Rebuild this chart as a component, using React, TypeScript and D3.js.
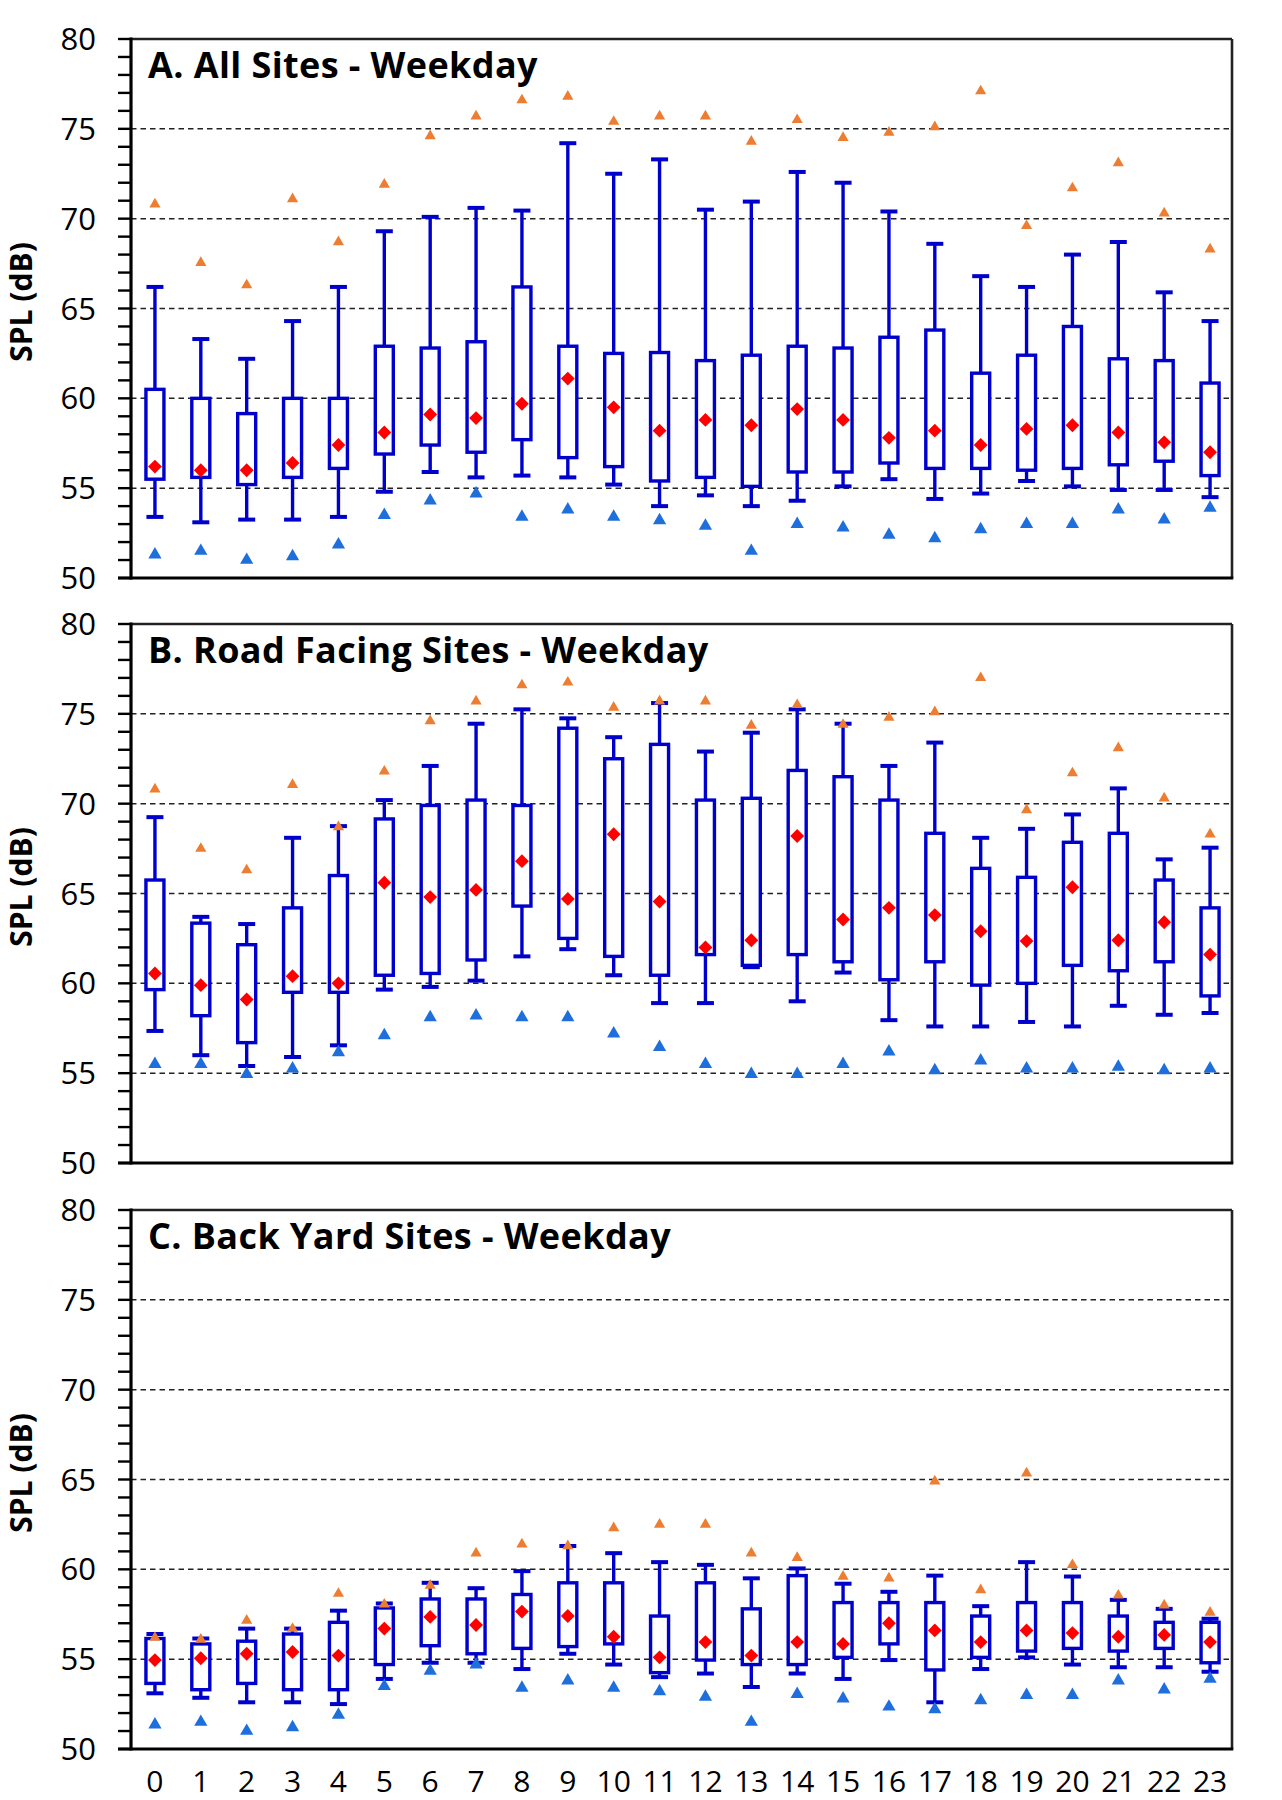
import React from "react";
import * as d3 from "d3";

// ---------- data ----------
const hours = ["0","1","2","3","4","5","6","7","8","9","10","11","12","13","14","15","16","17","18","19","20","21","22","23"];

// A. All Sites
const allHigh = [66.2, 63.3, 62.2, 64.3, 66.2, 69.3, 70.1, 70.6, 70.45, 74.2, 72.5, 73.3, 70.5, 70.95, 72.6, 72.0, 70.4, 68.6, 66.8, 66.2, 68.0, 68.7, 65.9, 64.3];
const allQ3 = [60.5, 60.0, 59.15, 60.0, 60.0, 62.9, 62.8, 63.15, 66.2, 62.9, 62.5, 62.55, 62.1, 62.4, 62.9, 62.8, 63.4, 63.8, 61.4, 62.4, 64.0, 62.2, 62.1, 60.85];
const allQ1 = [55.5, 55.6, 55.2, 55.6, 56.1, 56.9, 57.4, 57.0, 57.7, 56.7, 56.2, 55.4, 55.6, 55.1, 55.9, 55.9, 56.4, 56.1, 56.1, 56.0, 56.1, 56.3, 56.5, 55.7];
const allLow = [53.4, 53.1, 53.25, 53.25, 53.4, 54.8, 55.9, 55.6, 55.7, 55.6, 55.2, 54.0, 54.6, 54.0, 54.3, 55.1, 55.5, 54.4, 54.7, 55.4, 55.1, 54.9, 54.9, 54.5];
const allMean = [56.2, 56.0, 56.0, 56.4, 57.4, 58.1, 59.1, 58.9, 59.7, 61.1, 59.5, 58.2, 58.8, 58.5, 59.4, 58.8, 57.8, 58.2, 57.4, 58.3, 58.5, 58.1, 57.55, 57.0];
const allMax = [70.8, 67.55, 66.3, 71.1, 68.7, 71.9, 74.6, 75.7, 76.6, 76.8, 75.4, 75.7, 75.7, 74.3, 75.5, 74.5, 74.8, 75.1, 77.1, 69.6, 71.7, 73.1, 70.3, 68.3];
const allMin = [51.3, 51.5, 51.0, 51.2, 51.85, 53.5, 54.3, 54.7, 53.4, 53.8, 53.4, 53.2, 52.9, 51.5, 53.0, 52.8, 52.4, 52.2, 52.7, 53.0, 53.0, 53.8, 53.25, 53.9];

// B. Road Facing Sites
const roadHigh = [69.25, 63.7, 63.3, 68.1, 68.75, 70.2, 72.1, 74.45, 75.25, 74.75, 73.7, 75.6, 72.9, 73.95, 75.25, 74.45, 72.1, 73.4, 68.1, 68.6, 69.4, 70.85, 66.9, 67.55];
const roadQ3 = [65.75, 63.35, 62.15, 64.2, 66.0, 69.15, 69.9, 70.2, 69.9, 74.2, 72.5, 73.3, 70.2, 70.3, 71.85, 71.5, 70.2, 68.35, 66.4, 65.9, 67.85, 68.35, 65.75, 64.2];
const roadQ1 = [59.65, 58.2, 56.7, 59.5, 59.5, 60.45, 60.55, 61.3, 64.3, 62.5, 61.5, 60.45, 61.6, 61.0, 61.6, 61.2, 60.2, 61.2, 59.9, 60.0, 61.0, 60.7, 61.2, 59.3];
const roadLow = [57.35, 56.0, 55.4, 55.9, 56.55, 59.65, 59.8, 60.15, 61.5, 61.9, 60.45, 58.9, 58.9, 60.9, 59.0, 60.6, 57.95, 57.6, 57.6, 57.85, 57.6, 58.75, 58.25, 58.35];
const roadMean = [60.55, 59.9, 59.1, 60.4, 60.0, 65.6, 64.8, 65.2, 66.8, 64.7, 68.3, 64.55, 62.0, 62.4, 68.2, 63.55, 64.2, 63.8, 62.9, 62.35, 65.35, 62.4, 63.4, 61.6];
const roadMax = [70.8, 67.5, 66.3, 71.05, 68.7, 71.8, 74.6, 75.7, 76.6, 76.75, 75.35, 75.7, 75.7, 74.35, 75.5, 74.4, 74.8, 75.1, 77.0, 69.65, 71.7, 73.1, 70.3, 68.3];
const roadMin = [55.5, 55.5, 54.95, 55.25, 56.15, 57.1, 58.1, 58.2, 58.1, 58.1, 57.2, 56.45, 55.5, 54.95, 54.95, 55.5, 56.2, 55.15, 55.7, 55.25, 55.25, 55.35, 55.15, 55.25];

// C. Back Yard Sites
const yardHigh = [56.4, 56.15, 56.7, 56.7, 57.7, 58.1, 59.25, 58.95, 59.9, 61.3, 60.9, 60.4, 60.25, 59.5, 60.05, 59.2, 58.75, 59.65, 57.95, 60.4, 59.6, 58.3, 57.8, 57.25];
const yardQ3 = [56.15, 55.85, 56.0, 56.4, 57.05, 57.85, 58.35, 58.35, 58.6, 59.25, 59.25, 57.4, 59.25, 57.8, 59.65, 58.15, 58.15, 58.15, 57.4, 58.15, 58.15, 57.4, 57.05, 57.05];
const yardQ1 = [53.65, 53.3, 53.65, 53.3, 53.3, 54.7, 55.75, 55.3, 55.6, 55.7, 55.85, 54.25, 54.95, 54.7, 54.7, 55.1, 55.85, 54.4, 55.1, 55.45, 55.6, 55.45, 55.6, 54.8];
const yardLow = [53.1, 52.85, 52.6, 52.6, 52.5, 53.9, 54.8, 54.8, 54.45, 55.3, 54.7, 54.0, 54.2, 53.45, 54.2, 53.9, 54.95, 52.6, 54.45, 55.1, 54.7, 54.55, 54.55, 54.3];
const yardMean = [54.95, 55.05, 55.3, 55.4, 55.2, 56.7, 57.35, 56.9, 57.65, 57.4, 56.25, 55.1, 55.95, 55.2, 55.95, 55.85, 57.0, 56.6, 55.95, 56.6, 56.45, 56.25, 56.35, 55.95];
const yardMax = [56.2, 56.1, 57.15, 56.7, 58.65, 58.05, 59.1, 60.9, 61.4, 61.3, 62.3, 62.5, 62.5, 60.9, 60.65, 59.6, 59.5, 64.9, 58.85, 65.35, 60.25, 58.55, 58.0, 57.6];
const yardMin = [51.35, 51.5, 51.0, 51.2, 51.9, 53.5, 54.35, 54.7, 53.4, 53.8, 53.4, 53.2, 52.9, 51.5, 53.05, 52.8, 52.35, 52.2, 52.7, 53.0, 53.0, 53.8, 53.3, 53.9];

const panelTitles = ["A. All Sites - Weekday", "B. Road Facing Sites - Weekday", "C. Back Yard Sites - Weekday"];
const yTickLabels = [50, 55, 60, 65, 70, 75, 80];
const gridValues = [55, 60, 65, 70, 75];
const yDomain = [50, 80];

// ---------- layout / style ----------
const W = 1282;
const H = 1800;
const LEFT = 131;
const RIGHT = 1232;
const PANEL_H = 539;
const PANEL_TOPS = [39, 624, 1210];
const FONT = "'Open Sans', 'DejaVu Sans', sans-serif";
const BOX_BLUE = "#0000CC";
const MEAN_RED = "#FF0000";
const MAX_ORANGE = "#ED7D31";
const MIN_BLUE = "#1E6FDC";

const panelData = [
  { high: allHigh, q3: allQ3, q1: allQ1, low: allLow, mean: allMean, max: allMax, min: allMin },
  { high: roadHigh, q3: roadQ3, q1: roadQ1, low: roadLow, mean: roadMean, max: roadMax, min: roadMin },
  { high: yardHigh, q3: yardQ3, q1: yardQ1, low: yardLow, mean: yardMean, max: yardMax, min: yardMin },
];

const x = d3.scaleBand<string>().domain(hours).range([LEFT + 1, RIGHT + 1]).padding(0);

const diamond = d3.symbol(d3.symbolSquare, 96)() as string;
const triMax = d3.symbol(d3.symbolTriangle, 54)() as string;
const triMin = d3.symbol(d3.symbolTriangle, 76)() as string;

function Panel({ idx }: { idx: number }) {
  const top = PANEL_TOPS[idx];
  const d = panelData[idx];
  const y = d3.scaleLinear().domain(yDomain).range([top + PANEL_H, top]);
  const minorTicks = d3.range(yDomain[0], yDomain[1] + 1, 1);
  const cx = (h: string) => (x(h) as number) + x.bandwidth() / 2;
  const boxW = 18;
  const capW = 17;
  return (
    <g>
      {/* gridlines */}
      {gridValues.map((v) => (
        <line key={"g" + v} x1={LEFT} x2={RIGHT} y1={y(v)} y2={y(v)} stroke="#222" strokeWidth={1.5} strokeDasharray="5.5,4" />
      ))}
      {/* frame top/right */}
      <line x1={LEFT} x2={RIGHT} y1={top} y2={top} stroke="#222" strokeWidth={2.6} />
      <line x1={RIGHT} x2={RIGHT} y1={top} y2={top + PANEL_H} stroke="#222" strokeWidth={2.6} />
      {/* left axis and bottom axis */}
      <line x1={LEFT} x2={LEFT} y1={top - 1.5} y2={top + PANEL_H + 1.5} stroke="#000" strokeWidth={3.2} />
      <line x1={LEFT - 13} x2={RIGHT + 1.3} y1={top + PANEL_H} y2={top + PANEL_H} stroke="#000" strokeWidth={3.2} />
      {minorTicks.map((v) => (
        <line key={"t" + v} x1={LEFT - 13} x2={LEFT} y1={y(v)} y2={y(v)} stroke="#000" strokeWidth={2.4} />
      ))}
      {/* tick labels */}
      {yTickLabels.map((v) => (
        <text key={"l" + v} x={96} y={y(v) + 11} textAnchor="end" fontSize={31} fill="#000">{v}</text>
      ))}
      {/* axis title */}
      <text transform={`translate(32,${top + 263}) rotate(-90)`} textAnchor="middle" fontSize={30} fontWeight="bold" fill="#000">SPL (dB)</text>
      {/* whiskers and boxes */}
      {hours.map((h, i) => (
        <g key={"w" + h} stroke={BOX_BLUE} strokeWidth={3.4} fill="none">
          <line x1={cx(h)} x2={cx(h)} y1={y(d.q3[i])} y2={y(d.high[i])} />
          <line x1={cx(h)} x2={cx(h)} y1={y(d.q1[i])} y2={y(d.low[i])} />
          <line x1={cx(h) - capW / 2} x2={cx(h) + capW / 2} y1={y(d.high[i])} y2={y(d.high[i])} strokeWidth={4} />
          <line x1={cx(h) - capW / 2} x2={cx(h) + capW / 2} y1={y(d.low[i])} y2={y(d.low[i])} strokeWidth={4} />
          <rect x={cx(h) - boxW / 2} width={boxW} y={y(d.q3[i])} height={y(d.q1[i]) - y(d.q3[i])} fill="#fff" />
        </g>
      ))}
      {/* means */}
      {hours.map((h, i) => (
        <path key={"m" + h} d={diamond} transform={`translate(${cx(h)},${y(d.mean[i])}) rotate(45)`} fill={MEAN_RED} />
      ))}
      {/* max / min */}
      {hours.map((h, i) => (
        <path key={"mx" + h} d={triMax} transform={`translate(${cx(h)},${y(d.max[i])})`} fill={MAX_ORANGE} />
      ))}
      {hours.map((h, i) => (
        <path key={"mn" + h} d={triMin} transform={`translate(${cx(h)},${y(d.min[i])})`} fill={MIN_BLUE} />
      ))}
      {/* title */}
      <text x={148} y={top + 39} fontSize={36} fontWeight="bold" letterSpacing={0.4} fill="#000">{panelTitles[idx]}</text>
    </g>
  );
}

export default function App() {
  return (
    <svg width={W} height={H} style={{ position: "absolute", left: 0, top: 0, display: "block" }} fontFamily={FONT}>
      <rect x={0} y={0} width={W} height={H} fill="#fff" />
      {[0, 1, 2].map((i) => (
        <Panel key={i} idx={i} />
      ))}
      {hours.map((h) => (
        <text key={"x" + h} x={(x(h) as number) + x.bandwidth() / 2} y={1792} textAnchor="middle" fontSize={30} fill="#000">{h}</text>
      ))}
    </svg>
  );
}
